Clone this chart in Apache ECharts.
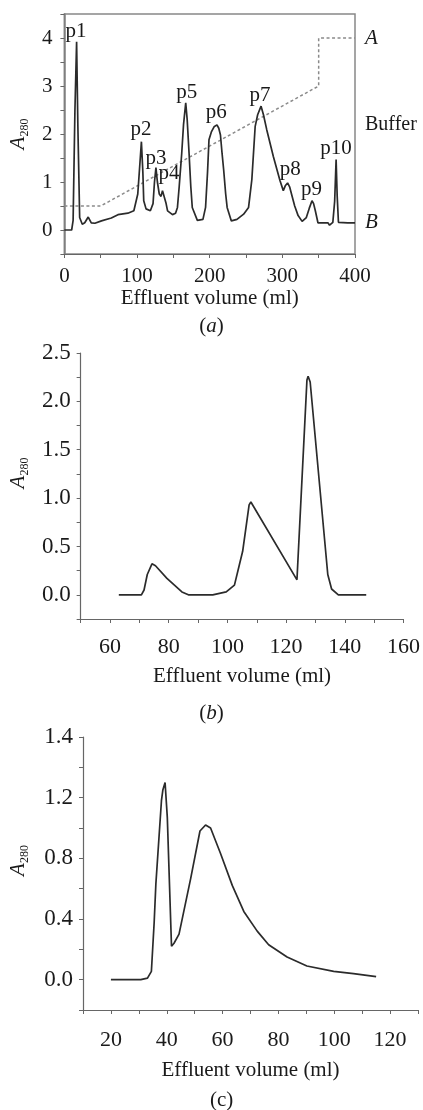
<!DOCTYPE html>
<html>
<head>
<meta charset="utf-8">
<script src="https://cdn.jsdelivr.net/npm/echarts@6/dist/echarts.min.js"></script>
<style>
html,body{margin:0;padding:0;background:#fff;}
#chart{width:423px;height:1110px;}
</style>
</head>
<body>
<div id="chart"></div>
<script>
// ---------- Panel (a) ----------
var aCurve = [[0,0],[10,0],[12,0.2],[14.5,2.5],[16.8,3.92],[18.5,2.2],[21,0.26],[24.6,0.12],[28,0.15],[32.8,0.27],[37,0.15],[42,0.14],[51,0.19],[64.6,0.25],[73.7,0.32],[87.4,0.35],[95.6,0.40],[101,0.75],[104,1.4],[106,1.84],[108,1.2],[109.2,0.61],[112.4,0.44],[118.3,0.40],[122,0.55],[124,1.0],[126,1.3],[128,1.0],[130.6,0.75],[133,0.7],[135,0.82],[137.4,0.78],[140,0.55],[142,0.40],[148.8,0.32],[153,0.35],[155.6,0.47],[158,0.9],[161.5,1.6],[164,2.2],[167,2.65],[169,2.3],[171.6,1.6],[174,0.9],[176,0.47],[183,0.2],[190.7,0.22],[194.3,0.47],[197,1.2],[199,1.88],[202.5,2.05],[206,2.15],[210,2.19],[212.5,2.12],[214.8,1.98],[217,1.6],[219.3,1.24],[222,0.75],[224,0.47],[229.8,0.19],[237.5,0.22],[246.7,0.33],[253.5,0.47],[258,1.05],[262.6,2.16],[266,2.4],[270.7,2.58],[274,2.4],[278.5,2.09],[287.6,1.53],[296.7,1.03],[301.3,0.82],[304,0.92],[307.2,0.98],[310,0.9],[312.6,0.75],[317,0.5],[321.7,0.30],[327.2,0.18],[333,0.26],[337,0.45],[340.8,0.61],[343,0.55],[345.4,0.40],[349,0.15],[362.7,0.15],[365,0.1],[367,0.13],[369.5,0.16],[372,0.6],[374,1.47],[375.5,0.7],[377.2,0.16],[390,0.15],[400,0.15]];
var aBuffer = [[0,0.5],[50,0.5],[350,3.0],[350,4.0],[400,4.0]];
var aPeakNames = ['p1','p2','p3','p4','p5','p6','p7','p8','p9','p10'];
var aPeakLabelPos = [[16,4.13],[105.6,2.09],[126,1.47],[144,1.16],[168.3,2.85],[208.9,2.44],[269.4,2.79],[311,1.25],[340,0.84],[374,1.69]];
var aXTickValues = [0,100,200,300,400];
var aXTickLabels = ['0','100','200','300','400'];
var aYTickValues = [0,1,2,3,4];
var aYTickLabels = ['0','1','2','3','4'];
var aRightValues = [4,2.2,0.15];
var aRightLabels = ['A','Buffer','B'];

// ---------- Panel (b) ----------
var bCurve = [[63,0],[70.7,0],[71.6,0.05],[72.7,0.21],[74.3,0.32],[75.5,0.3],[79.4,0.17],[84.5,0.03],[86.7,0],[95,0],[99.6,0.03],[102.4,0.10],[104,0.3],[105.2,0.45],[107.4,0.93],[108,0.96],[123.7,0.155],[127.1,2.22],[127.5,2.26],[128.2,2.2],[134.2,0.21],[135.5,0.06],[137.8,0],[147.3,0]];
var bXTickValues = [60,80,100,120,140,160];
var bXTickLabels = ['60','80','100','120','140','160'];
var bYTickValues = [0,0.5,1,1.5,2,2.5];
var bYTickLabels = ['0.0','0.5','1.0','1.5','2.0','2.5'];

// ---------- Panel (c) ----------
var cCurve = [[20,0],[30.7,0],[33.1,0.01],[34.5,0.055],[35.5,0.38],[36.1,0.63],[38.1,1.18],[38.6,1.25],[39.4,1.30],[40.2,1.07],[41.7,0.22],[42.6,0.24],[44.4,0.30],[48.6,0.67],[51.9,0.98],[53.9,1.02],[55.7,1.00],[59.3,0.83],[63.5,0.62],[67.6,0.45],[72.4,0.32],[76.5,0.23],[83.1,0.15],[90.2,0.09],[99.8,0.055],[106.9,0.04],[115,0.02]];
var cXTickValues = [20,40,60,80,100,120];
var cXTickLabels = ['20','40','60','80','100','120'];
var cYTickValues = [0,0.4,0.8,1.2,1.6];
var cYTickLabels = ['0.0','0.4','0.8','1.2','1.4'];

var FONT = "'Liberation Serif','Times New Roman',serif";
var LINE = '#2b2b2b';
var AXIS = '#666';
var TXT = '#1a1a1a';

function lookup(vals, labels){
  return function(v){
    for (var i=0;i<vals.length;i++){ if (Math.abs(v-vals[i])<1e-6) return labels[i]; }
    return '';
  };
}
function yName(pad){
  return {
    padding: pad || 0,
    rich: {
      i: {fontFamily: FONT, fontStyle:'italic', fontSize:21, color:TXT, verticalAlign:'top', lineHeight:21},
      s: {fontFamily: FONT, fontSize:12, color:TXT, verticalAlign:'top', padding:[11,0,0,0], lineHeight:12}
    }
  };
}
function axisCommon(){
  return {
    axisLine:{show:true, onZero:false, lineStyle:{color:AXIS, width:1.2}},
    axisTick:{show:true, inside:false, length:4, lineStyle:{color:AXIS}},
    splitLine:{show:false}
  };
}
function mk(base, extra){ var o = Object.assign({}, base); for (var k in extra) o[k]=extra[k]; return o; }
function lbl(size, margin, vals, labels){
  return {fontFamily: FONT, fontSize:size, color:TXT, margin:margin, formatter:lookup(vals,labels)};
}
var nameStyle = {fontFamily:FONT, fontSize:21, color:TXT};

var chart = echarts.init(document.getElementById('chart'), null, {renderer:'canvas'});

var option = {
  backgroundColor:'#fff',
  animation:false,
  title:[
    {text:'({i|a})', left:'center', top:311, textStyle:{fontFamily:FONT, fontSize:21, fontWeight:'normal', color:TXT, rich:{i:{fontFamily:FONT, fontStyle:'italic', fontSize:21, color:TXT}}}},
    {text:'({i|b})', left:'center', top:698, textStyle:{fontFamily:FONT, fontSize:21, fontWeight:'normal', color:TXT, rich:{i:{fontFamily:FONT, fontStyle:'italic', fontSize:21, color:TXT}}}},
    {text:'(c)', left:205, top:1085, textStyle:{fontFamily:FONT, fontSize:21, fontWeight:'normal', color:TXT}}
  ],
  grid:[
    {left:61, right:68, top:14, height:240, show:true, borderColor:'#888', borderWidth:1.5, backgroundColor:'transparent'},
    {left:79, right:16, top:353, height:266},
    {left:82, right:5, top:737, height:273}
  ],
  xAxis:[
    mk(axisCommon(), {gridIndex:0, type:'value', min:0, max:400, interval:50,
      axisLabel:lbl(21, 12, aXTickValues, aXTickLabels),
      name:'Effluent volume (ml)', nameLocation:'middle', nameGap:33, nameTextStyle:nameStyle}),
    mk(axisCommon(), {gridIndex:1, type:'value', min:50, max:160, interval:10,
      axisLabel:lbl(22, 17, bXTickValues, bXTickLabels),
      name:'Effluent volume (ml)', nameLocation:'middle', nameGap:47, nameTextStyle:nameStyle}),
    mk(axisCommon(), {gridIndex:2, type:'value', min:10, max:130, interval:10,
      axisLabel:lbl(22, 19, cXTickValues, cXTickLabels),
      name:'Effluent volume (ml)', nameLocation:'middle', nameGap:50, nameTextStyle:nameStyle})
  ],
  yAxis:[
    mk(axisCommon(), {gridIndex:0, type:'value', min:-0.5, max:4.5, interval:0.5,
      axisLabel:lbl(21, 12, aYTickValues, aYTickLabels),
      name:'{i|A}{s|280}', nameLocation:'middle', nameGap:21, nameTextStyle:yName()}),
    {gridIndex:0, type:'value', position:'right', min:-0.5, max:4.5,
      axisLine:{show:true, lineStyle:{color:'#888', width:1.5}},
      axisTick:{show:false}, splitLine:{show:false},
      axisLabel:{show:true, margin:10, customValues:aRightValues,
        formatter:function(v){ var s = lookup(aRightValues,aRightLabels)(v); return (s==='A'||s==='B') ? '{i|'+s+'}' : s; },
        fontFamily:FONT, fontSize:20, color:TXT,
        rich:{i:{fontFamily:FONT, fontStyle:'italic', fontSize:21, color:TXT}}}},
    mk(axisCommon(), {gridIndex:1, type:'value', min:-0.25, max:2.5, interval:0.25,
      axisLabel:lbl(23, 10, bYTickValues, bYTickLabels),
      name:'{i|A}{s|280}', nameLocation:'middle', nameGap:47, nameTextStyle:yName([0,0,0,26])}),
    mk(axisCommon(), {gridIndex:2, type:'value', min:-0.2, max:1.6, interval:0.2,
      axisLabel:lbl(23, 10, cYTickValues, cYTickLabels),
      name:'{i|A}{s|280}', nameLocation:'middle', nameGap:54, nameTextStyle:yName([0,0,0,26])})
  ],
  series:[
    {type:'line', xAxisIndex:0, yAxisIndex:0, data:aBuffer, showSymbol:false, silent:true,
      lineStyle:{color:'#8a8a8a', width:1.5, type:[3,2.5]}},
    {type:'line', xAxisIndex:0, yAxisIndex:0, data:aCurve, showSymbol:false, silent:true,
      lineStyle:{color:LINE, width:1.7}},
    {type:'scatter', xAxisIndex:0, yAxisIndex:0, symbol:'circle', symbolSize:1, silent:true,
      z:10,
      itemStyle:{color:'rgba(0,0,0,0)', opacity:1},
      data:aPeakNames.map(function(n,i){ return {name:n, value:aPeakLabelPos[i]}; }),
      label:{show:true, position:'top', distance:0, align:'center', verticalAlign:'middle',
        formatter:'{b}', fontFamily:FONT, fontSize:21, color:TXT}},
    {type:'line', xAxisIndex:1, yAxisIndex:2, data:bCurve, showSymbol:false, silent:true,
      lineStyle:{color:LINE, width:1.7}},
    {type:'line', xAxisIndex:2, yAxisIndex:3, data:cCurve, showSymbol:false, silent:true,
      lineStyle:{color:LINE, width:1.7}}
  ]
};
chart.setOption(option);
</script>
</body>
</html>
